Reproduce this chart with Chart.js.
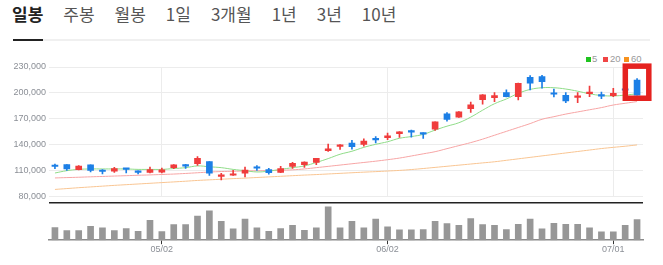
<!DOCTYPE html>
<html>
<head>
<meta charset="utf-8">
<script src="https://cdn.jsdelivr.net/npm/chart.js@4.4.0/dist/chart.umd.min.js"></script>
<style>
  body { margin:0; background:#fff; width:663px; height:265px; overflow:hidden; position:relative; }
  #tabs { position:absolute; left:12px; top:0; font-family:"Noto Sans CJK KR",sans-serif; font-size:17px; line-height:28px; color:#555; white-space:nowrap; }
  #tabs span { margin-right:20px; }
  #tabs .on { font-weight:bold; color:#222; }
  #rule { position:absolute; left:13px; top:38.5px; width:637px; height:2px; background:#f0f0f0; }
  #rule2 { position:absolute; left:13px; top:38.5px; width:30px; height:2px; background:#222; }
  .sq { position:absolute; top:56.5px; width:5px; height:5px; }
  .lt { position:absolute; top:53px; font:9.5px Arial,"Liberation Sans",sans-serif; line-height:12px; color:#999; }
  canvas { position:absolute; left:0; }
  #price { top:40px; }
  #vol { top:198px; }
</style>
</head>
<body>
<div id="tabs"><span class="on">일봉</span><span>주봉</span><span>월봉</span><span>1일</span><span>3개월</span><span>1년</span><span>3년</span><span>10년</span></div>
<div id="rule"></div><div id="rule2"></div>

<div class="sq" style="left:586px;background:#1fc31f"></div><div class="lt" style="left:592px">5</div>
<div class="sq" style="left:603px;background:#f04545"></div><div class="lt" style="left:610px">20</div>
<div class="sq" style="left:624px;background:#f7921e"></div><div class="lt" style="left:631px">60</div>

<canvas id="price" width="663" height="165"></canvas>
<canvas id="vol" width="663" height="60"></canvas>

<script>
// trading days
const dates = ['04/19','04/20','04/21','04/24','04/25','04/26','04/27','04/28','05/01','05/02',
  '05/03','05/04','05/08','05/09','05/10','05/11','05/12','05/15','05/16','05/17',
  '05/18','05/19','05/22','05/23','05/24','05/25','05/26','05/30','06/02','06/05',
  '06/07','06/08','06/09','06/12','06/13','06/14','06/15','06/16','06/19','06/20',
  '06/21','06/22','06/23','06/26','06/27','06/28','06/29','07/01','07/02','07/03'];
const tickLabels = ['05/02','06/02','07/01'];
const yTicks = [80000,110000,140000,170000,200000,230000];

const opens  = [115400,117000,111200,116700,109600,109400,112200,109600,108000,108200,
  113500,115700,118000,120400,103400,104700,107000,113400,111200,108000,
  114800,116900,119600,133300,138000,142000,140300,146100,148100,152700,
  156200,153800,158100,175800,172000,181900,192300,194600,200300,195700,
  218100,218900,199100,197300,194800,199200,198100,196900,203700,215000];
const highs  = [117700,117200,115800,116900,111200,113800,112300,109700,114300,113000,
  117000,117300,126200,120600,106900,110300,114300,115800,112600,115000,
  119600,120300,124400,140800,140200,145000,146900,149600,153500,155200,
  157000,153900,166600,177300,178300,189300,198100,200300,203500,211500,
  220000,220400,204300,200300,200300,208000,201100,205400,204500,216500];
const lows   = [112300,110300,110800,108500,106200,107900,107300,106200,107300,107300,
  112300,112700,116100,104600,99300,104500,102700,110300,106000,107700,
  112700,113800,116900,132300,134600,135000,138500,142000,145800,148400,
  148900,147300,156500,167300,171500,177300,187000,190000,195500,192000,
  203500,205400,195400,188800,188800,195700,193400,195700,202800,197300];
const closes = [114800,112000,115400,110400,109000,112300,111600,108000,111200,111000,
  116900,115200,124200,107000,105300,106000,110800,112800,107800,112300,
  118500,120000,124200,135300,139800,137700,144300,145600,150400,155000,
  154700,152300,166500,169200,178100,186200,197800,196900,195700,211200,
  211200,213000,198500,190800,195300,200800,196200,199600,203100,197300];

const ma5  = [107300,110000,111500,112000,112000,112000,112000,111500,111500,111500,
  112500,113500,115500,114500,113500,111500,110000,108500,109500,111500,
  113500,115500,119500,124000,129000,132500,137000,140500,143500,147500,
  149500,152000,157000,161500,165500,172000,180000,187500,193000,199500,
  204000,206000,206000,204500,202000,199000,197000,196500,197500,199000];
const ma20 = [101600,102000,102400,102900,103300,103800,104200,104700,105100,105600,
  106100,106800,107600,108400,109000,109300,109600,109900,110200,110500,
  111000,112000,113500,115000,116500,118000,119500,121000,122700,124600,
  127000,129500,132000,135500,139000,142500,146500,151000,155500,160000,
  164500,169500,172500,175500,178000,180500,183000,186000,188000,190000];
const ma60 = [88300,89300,90300,91200,92100,93000,93800,94600,95400,96200,
  97000,97800,98700,99400,100100,100800,101400,102100,102800,103500,
  104200,104900,105500,106200,106900,107600,108300,108900,109600,110300,
  111300,112500,113800,115100,116400,117700,119000,120300,122000,123700,
  125400,127100,128800,130500,132200,133900,135600,137000,138300,139800];

const volumes = [370000,280000,280000,400000,360000,280000,340000,260000,580000,250000,
  450000,450000,700000,850000,550000,330000,610000,360000,260000,340000,
  430000,290000,360000,970000,360000,550000,360000,610000,390000,300000,
  300000,310000,550000,480000,430000,630000,450000,430000,310000,460000,
  610000,330000,490000,460000,460000,360000,240000,240000,430000,600000];

const UP = '#f03c3c', DOWN = '#1c7fe6';
const candleColors = opens.map((o, i) => closes[i] >= o ? UP : DOWN);
const tickIdx = tickLabels.map(t => dates.indexOf(t));
const font = 'Arial, "Liberation Sans", sans-serif';

const boxPlugin = {
  id: 'lastBox',
  afterDatasetsDraw(chart) {
    const last = dates.length - 1;
    const x = chart.scales.x.getPixelForValue(last);
    const top = chart.scales.y.getPixelForValue(highs[last]) - 12.5;
    const bot = chart.scales.y.getPixelForValue(Math.min(opens[last], closes[last], lows[last])) + 3;
    const c = chart.ctx;
    c.save();
    c.strokeStyle = '#e5221f';
    c.lineWidth = 5.5;
    c.strokeRect(x - 11.75, top, 23.5, bot - top);
    c.restore();
  }
};

new Chart(document.getElementById('price'), {
  type: 'bar',
  data: {
    labels: dates,
    datasets: [
      { type: 'bar', data: opens.map((o, i) => [o, closes[i]]), backgroundColor: candleColors,
        barThickness: 6, minBarLength: 1.5, grouped: false, order: 0 },
      { type: 'bar', data: lows.map((l, i) => [l, highs[i]]), backgroundColor: candleColors,
        barThickness: 1, grouped: false, order: 1 },
      { type: 'line', label: '5', data: ma5, borderColor: '#8fdc88', borderWidth: 1, pointRadius: 0, tension: 0.4, order: 2 },
      { type: 'line', label: '20', data: ma20, borderColor: '#f7a5a5', borderWidth: 1, pointRadius: 0, tension: 0.4, order: 3 },
      { type: 'line', label: '60', data: ma60, borderColor: '#f9c592', borderWidth: 1, pointRadius: 0, tension: 0.4, order: 4 }
    ]
  },
  options: {
    responsive: false,
    animation: false,
    layout: { padding: { top: 27, bottom: 8, left: 0, right: 20 } },
    plugins: { legend: { display: false }, tooltip: { enabled: false } },
    scales: {
      x: {
        grid: { offset: false, drawTicks: false,
          color: ctx => (ctx.tick && tickIdx.includes(ctx.tick.value)) ? '#ececec' : 'rgba(0,0,0,0)' },
        border: { display: false },
        ticks: { display: false }
      },
      y: {
        min: 80000, max: 230000,
        afterBuildTicks: s => { s.ticks = yTicks.map(v => ({ value: v })); },
        afterFit: s => { s.width = 49; },
        grid: { color: '#ececec', drawTicks: false },
        border: { display: false },
        ticks: { padding: 3, color: '#8b8f96', font: { size: 9, family: font },
          callback: v => v.toLocaleString('en-US') }
      }
    }
  },
  plugins: [boxPlugin]
});

const topLine = {
  id: 'topLine',
  afterDraw(chart) {
    const c = chart.ctx;
    c.save();
    c.fillStyle = '#222';
    c.fillRect(chart.chartArea.left, 4, chart.chartArea.right - chart.chartArea.left, 1.5);
    c.restore();
  }
};

new Chart(document.getElementById('vol'), {
  type: 'bar',
  data: {
    labels: dates,
    datasets: [{ data: volumes, backgroundColor: '#979797', barThickness: 6 }]
  },
  options: {
    responsive: false,
    animation: false,
    layout: { padding: { top: 5, bottom: 3, left: 49, right: 20 } },
    plugins: { legend: { display: false }, tooltip: { enabled: false } },
    scales: {
      x: {
        grid: { offset: false, drawOnChartArea: false, tickLength: 4,
          tickColor: ctx => (ctx.tick && tickIdx.includes(ctx.tick.value)) ? '#333' : 'rgba(0,0,0,0)' },
        border: { color: '#8c8c8c', width: 1.5 },
        ticks: { autoSkip: false, maxRotation: 0, padding: 0, color: '#8b8f96', font: { size: 9, family: font },
          callback: (v, i) => tickLabels.includes(dates[i]) ? dates[i] : '' }
      },
      y: { display: false, min: 0, max: 1080000 }
    }
  },
  plugins: [topLine]
});
</script>
</body>
</html>
